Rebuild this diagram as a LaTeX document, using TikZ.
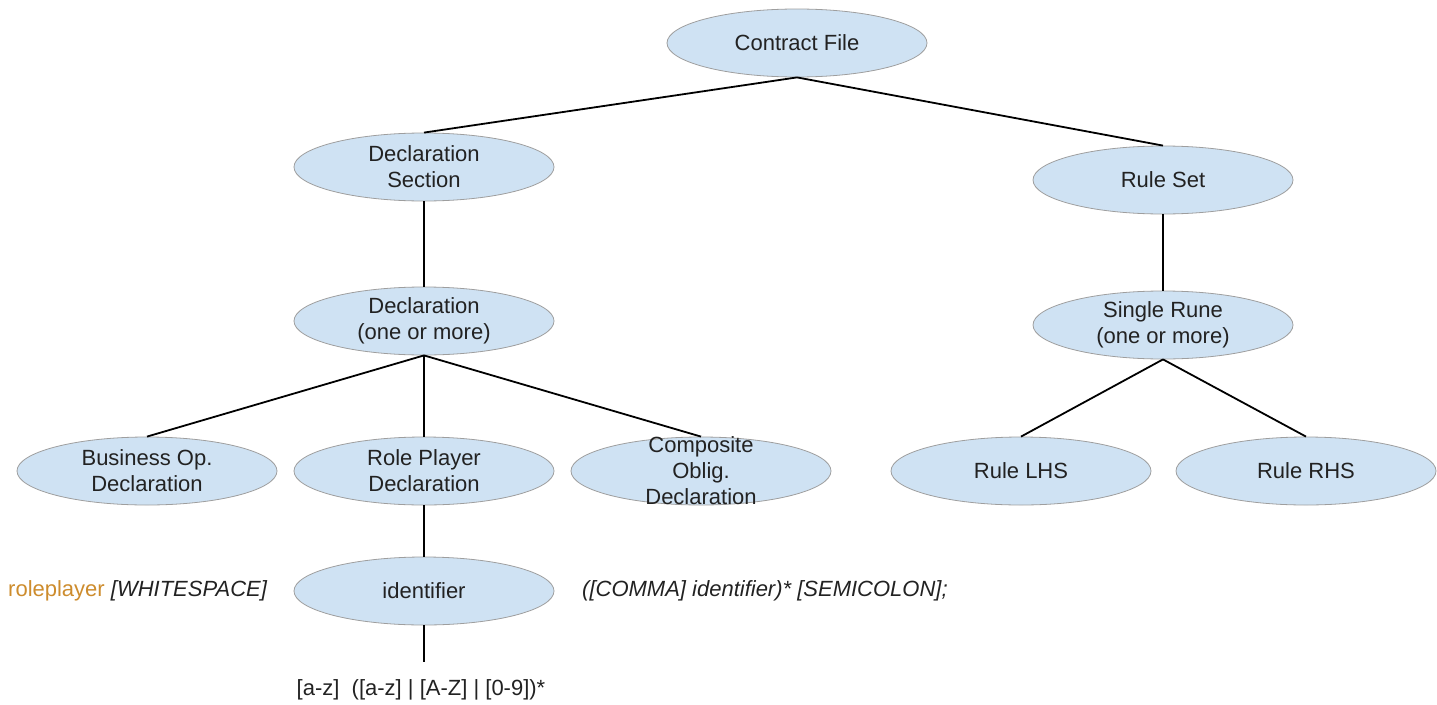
\documentclass[tikz,border=0pt]{standalone}
\usepackage{fontspec}
\setmainfont{Liberation Sans}
\usetikzlibrary{shapes.geometric}
\definecolor{ovalfill}{HTML}{CFE2F3}
\definecolor{ovaledge}{HTML}{9E9E9E}
\definecolor{keyword}{RGB}{205,140,45}
\definecolor{ink}{HTML}{222222}
\begin{document}
\begin{tikzpicture}[x=1pt,y=-1pt,
  oval/.style={ellipse, draw=ovaledge, line width=0.8pt, fill=ovalfill,
    minimum width=260pt, minimum height=68pt, inner sep=0pt},
  ovaltext/.style={align=center, font=\fontsize{22}{26}\selectfont, text=ink, inner sep=0pt},
  grammar/.style={font=\fontsize{22}{26}\selectfont, text=ink, inner sep=0pt},
  link/.style={draw=black, line width=1.8pt}]
\useasboundingbox (0,0) rectangle (1437,704);

% ovals of the parse tree
\node[oval] (cf)   at (797,43)  {};
\node[oval] (ds)   at (424,167) {};
\node[oval] (rs)   at (1163,180) {};
\node[oval] (decl) at (424,321) {};
\node[oval] (sr)   at (1163,325) {};
\node[oval] (bo)   at (147,471) {};
\node[oval] (rp)   at (424,471) {};
\node[oval] (co)   at (701,471) {};
\node[oval] (lhs)  at (1021,471) {};
\node[oval] (rhs)  at (1306,471) {};
\node[oval] (id)   at (424,591) {};

% oval captions
\node[ovaltext] (cf-t)   at (cf)   {Contract File};
\node[ovaltext] (ds-t)   at (ds)   {Declaration\\Section};
\node[ovaltext] (rs-t)   at (rs)   {Rule Set};
\node[ovaltext] (decl-t) at (decl) {Declaration\\(one or more)};
\node[ovaltext] (sr-t)   at (sr)   {Single Rune\\(one or more)};
\node[ovaltext] (bo-t)   at (bo)   {Business Op.\\Declaration};
\node[ovaltext] (rp-t)   at (rp)   {Role Player\\Declaration};
\node[ovaltext] (co-t)   at (co)   {Composite\\Oblig.\\Declaration};
\node[ovaltext] (lhs-t)  at (lhs)  {Rule LHS};
\node[ovaltext] (rhs-t)  at (rhs)  {Rule RHS};
\node[ovaltext] (id-t)   at (id)   {identifier};

% grammar fragments
\node[grammar, anchor=west] (pre) at (8,591)
  {\textcolor{keyword}{roleplayer} \textit{[WHITESPACE]}};
\node[grammar, anchor=west] (post) at (582,591)
  {\textit{([COMMA] identifier)* [SEMICOLON];}};
\node[grammar] (idrule) at (421,690) {[a-z]\ \ ([a-z] | [A-Z] | [0-9])*};
\coordinate (idend) at (424,662);

% tree edges
\draw[link] (cf.south) -- (ds.north);
\draw[link] (cf.south) -- (rs.north);
\draw[link] (ds.south) -- (decl.north);
\draw[link] (rs.south) -- (sr.north);
\draw[link] (decl.south) -- (bo.north);
\draw[link] (decl.south) -- (rp.north);
\draw[link] (decl.south) -- (co.north);
\draw[link] (sr.south) -- (lhs.north);
\draw[link] (sr.south) -- (rhs.north);
\draw[link] (rp.south) -- (id.north);
\draw[link] (id.south) -- (idend);
\end{tikzpicture}
\end{document}
